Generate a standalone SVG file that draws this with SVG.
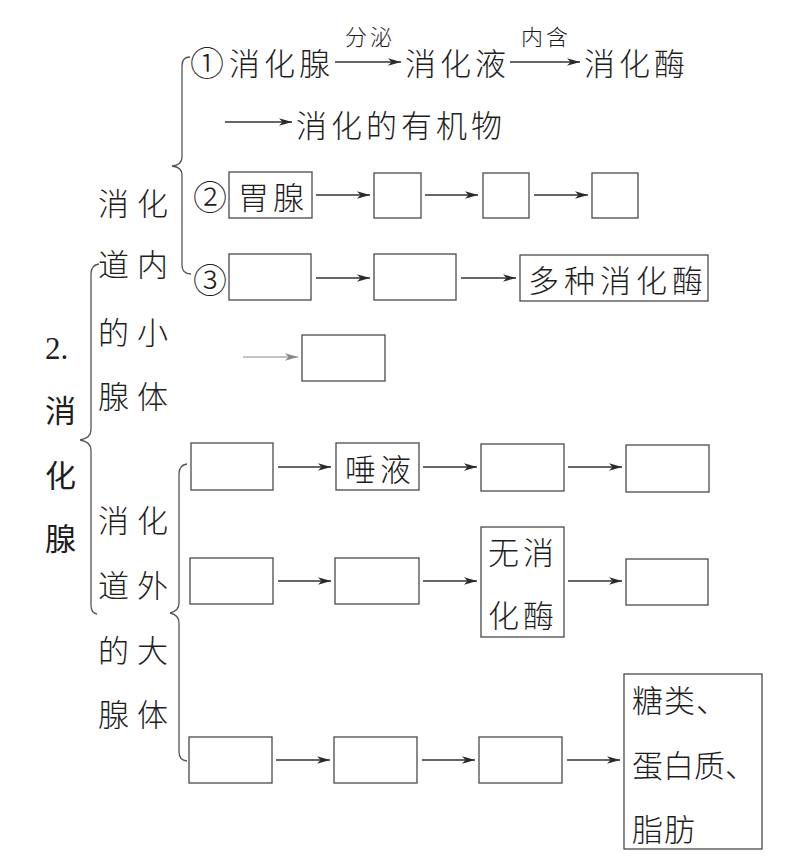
<svg xmlns="http://www.w3.org/2000/svg" width="809" height="864" viewBox="0 0 809 864">
<defs>
<style>
.t{font-family:"Noto Sans CJK SC","Noto Sans CJK JP",sans-serif;font-size:31px;font-weight:300;fill:#1e1e1e;dominant-baseline:central;letter-spacing:4px}
.lbl{font-size:22px;letter-spacing:3px;text-anchor:middle}
.side{letter-spacing:8px}
.big{font-weight:400;letter-spacing:0}
.num{font-family:"Liberation Serif",serif;font-size:31px;fill:#1e1e1e;dominant-baseline:central}
.circ{letter-spacing:0;font-size:34px}
.box{fill:#fff;stroke:#4a4a4a;stroke-width:1.3}
.br{fill:none;stroke:#555;stroke-width:1.3}
.ar{stroke:#333;stroke-width:1.3;fill:none;marker-end:url(#ah)}
.arg{stroke:#888;stroke-width:1.2;fill:none;marker-end:url(#ahg)}
</style>
<marker id="ah" markerWidth="14" markerHeight="9" refX="13" refY="4.5" orient="auto" markerUnits="userSpaceOnUse"><path d="M0,0.8 L13,4.5 L0,8.2 L3.5,4.5 Z" fill="#2a2a2a"/></marker>
<marker id="ahg" markerWidth="14" markerHeight="9" refX="13" refY="4.5" orient="auto" markerUnits="userSpaceOnUse"><path d="M0,0.8 L13,4.5 L0,8.2 L3.5,4.5 Z" fill="#888"/></marker>
</defs>
<rect width="809" height="864" fill="#fff"/>

<g id="braces">
<path class="br" d="M190,57 Q182,57 182,66 L182,157 Q182,165 172,166 Q182,167 182,175 L182,265 Q182,274 191,274"/>
<path class="br" d="M99,264 Q91,265 91,274 L91,430 Q91,438 80,440 Q91,442 91,450 L91,605 Q91,613 97,614"/>
<path class="br" d="M187,464 Q179,465 179,474 L179,603 Q179,611 170,613 Q179,615 179,623 L179,752 Q179,760 187,761"/>
</g>

<g id="title">
<text class="num" x="45" y="348">2.</text>
<text class="t big" x="45" y="408">消</text>
<text class="t big" x="45" y="473">化</text>
<text class="t big" x="45" y="536">腺</text>
</g>

<g id="inner-label">
<text class="t side" x="98" y="201">消化</text>
<text class="t side" x="98" y="262">道内</text>
<text class="t side" x="98" y="330">的小</text>
<text class="t side" x="98" y="394">腺体</text>
</g>

<g id="outer-label">
<text class="t side" x="98" y="518">消化</text>
<text class="t side" x="98" y="583">道外</text>
<text class="t side" x="98" y="648">的大</text>
<text class="t side" x="98" y="712">腺体</text>
</g>

<g id="row1">
<text class="t circ" x="190" y="61">①</text>
<g id="n-gland"><text class="t" x="229" y="61">消化腺</text></g>
<g id="n-juice"><text class="t" x="405" y="61">消化液</text></g>
<g id="n-enzyme"><text class="t" x="584" y="61">消化酶</text></g>
<g id="n-organic"><text class="t" x="296" y="123">消化的有机物</text></g>
<text class="t lbl" x="370" y="35">分泌</text>
<text class="t lbl" x="546" y="35">内含</text>
</g>

<g id="row2">
<text class="t circ" x="193" y="195">②</text>
<g id="n-stomach"><rect class="box" x="229" y="172" width="83" height="46"/><text class="t" x="238" y="195">胃腺</text></g>
<g id="n-r2b"><rect class="box" x="374" y="173" width="47" height="45"/></g>
<g id="n-r2c"><rect class="box" x="483" y="173" width="46" height="45"/></g>
<g id="n-r2d"><rect class="box" x="592" y="173" width="46" height="45"/></g>
</g>

<g id="row3">
<text class="t circ" x="193" y="278">③</text>
<g id="n-r3a"><rect class="box" x="229" y="254" width="82" height="46"/></g>
<g id="n-r3b"><rect class="box" x="374" y="254" width="82" height="46"/></g>
<g id="n-multi"><rect class="box" x="520" y="255" width="188" height="46"/><text class="t" x="528" y="278" style="letter-spacing:5px">多种消化酶</text></g>
<g id="n-r3c"><rect class="box" x="302" y="335" width="83" height="46"/></g>
</g>

<g id="rowA">
<g id="n-rAa"><rect class="box" x="191" y="443" width="82" height="47"/></g>
<g id="n-saliva"><rect class="box" x="336" y="443" width="83" height="47"/><text class="t" x="345" y="467">唾液</text></g>
<g id="n-rAc"><rect class="box" x="481" y="444" width="83" height="47"/></g>
<g id="n-rAd"><rect class="box" x="626" y="445" width="83" height="47"/></g>
</g>

<g id="rowB">
<g id="n-rBa"><rect class="box" x="190" y="558" width="83" height="46"/></g>
<g id="n-rBb"><rect class="box" x="335" y="558" width="84" height="46"/></g>
<g id="n-noenz"><rect class="box" x="481" y="527" width="83" height="110"/><text class="t" x="488" y="550">无消</text><text class="t" x="488" y="613">化酶</text></g>
<g id="n-rBd"><rect class="box" x="626" y="559" width="82" height="46"/></g>
</g>

<g id="rowC">
<g id="n-rCa"><rect class="box" x="189" y="737" width="83" height="46"/></g>
<g id="n-rCb"><rect class="box" x="334" y="737" width="83" height="46"/></g>
<g id="n-rCc"><rect class="box" x="479" y="737" width="83" height="46"/></g>
<g id="n-nutri"><rect class="box" x="624" y="674" width="138" height="175"/>
<text class="t" x="632" y="698" style="letter-spacing:1px">糖类、</text>
<text class="t" x="632" y="763" style="letter-spacing:0">蛋白质、</text>
<text class="t" x="632" y="827" style="letter-spacing:1px">脂肪</text></g>
</g>

<g id="connectors">
<line class="ar" x1="335" y1="62" x2="401" y2="62"/>
<line class="ar" x1="510" y1="62" x2="580" y2="62"/>
<line class="ar" x1="225" y1="122" x2="292" y2="122"/>
<line class="ar" x1="316" y1="195" x2="370" y2="195"/>
<line class="ar" x1="425" y1="195" x2="478" y2="195"/>
<line class="ar" x1="534" y1="195" x2="588" y2="195"/>
<line class="ar" x1="316" y1="278" x2="370" y2="278"/>
<line class="ar" x1="461" y1="278" x2="516" y2="278"/>
<line class="arg" x1="243" y1="357" x2="298" y2="357"/>
<line class="ar" x1="278" y1="467" x2="331" y2="467"/>
<line class="ar" x1="423" y1="467" x2="477" y2="467"/>
<line class="ar" x1="568" y1="467" x2="622" y2="467"/>
<line class="ar" x1="278" y1="581" x2="331" y2="581"/>
<line class="ar" x1="423" y1="581" x2="477" y2="581"/>
<line class="ar" x1="568" y1="581" x2="622" y2="581"/>
<line class="ar" x1="276" y1="760" x2="330" y2="760"/>
<line class="ar" x1="422" y1="760" x2="475" y2="760"/>
<line class="ar" x1="567" y1="760" x2="620" y2="760"/>
</g>
</svg>
